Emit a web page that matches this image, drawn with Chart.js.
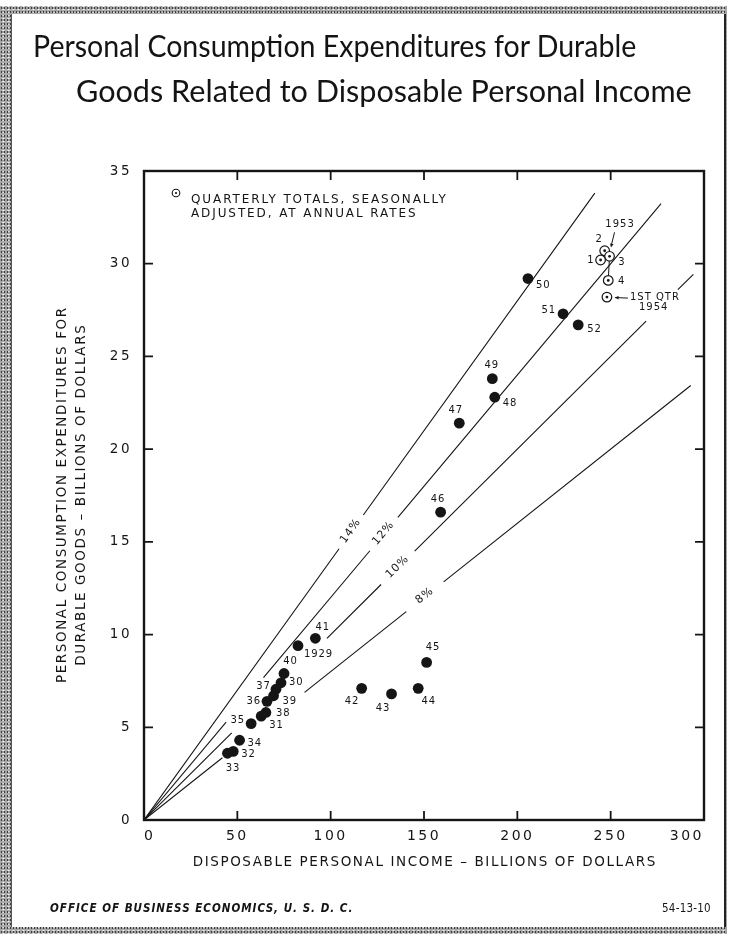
<!DOCTYPE html>
<html>
<head>
<meta charset="utf-8">
<script src="https://cdn.jsdelivr.net/npm/chart.js@4.4.1/dist/chart.umd.min.js"></script>
<style>
html, body { margin: 0; padding: 0; background: #fff; }
#page { position: relative; width: 731px; height: 937px; overflow: hidden; background: #fff; }
#frame {
  position: absolute; left: 0; top: 6px; width: 727px; height: 928px;
  background-color: #a9a9a9;
  background-image: radial-gradient(#3c3c3c 0.7px, transparent 1.1px), radial-gradient(#f2f2f2 0.8px, transparent 1.2px);
  background-size: 3px 4px, 5px 3px;
  background-position: 0 0, 1px 2px;
}
#inner { position: absolute; left: 11px; top: 14px; width: 712px; height: 913px; background: #fff; border-left: 1px solid #555; border-right: 2px solid #222; }
#chart { position: absolute; left: 0; top: 0; }
.ttl { position: absolute; white-space: nowrap; font-family: Lato, "Open Sans", sans-serif; font-size: 30px; color: #141414; transform-origin: 0 50%; line-height: 36px; }
.foot { position: absolute; white-space: nowrap; font-family: "DejaVu Sans", sans-serif; color: #141414; font-size: 12.5px; line-height: 16px; letter-spacing: 1.2px; transform-origin: 0 50%; }
</style>
</head>
<body>
<div id="page">
  <div id="frame"></div>
  <div id="inner"></div>
  <canvas id="chart" width="731" height="937"></canvas>
  <div class="ttl" id="t1" data-w="603" style="left:33px; top:27px;">Personal Consumption Expenditures for Durable</div>
  <div class="ttl" id="t2" data-w="616" style="left:76px; top:72px;">Goods Related to Disposable Personal Income</div>
  <div class="foot" id="f1" data-w="303" style="left:50px; top:900px; font-weight:bold; font-style:italic;">OFFICE OF BUSINESS ECONOMICS, U. S. D. C.</div>
  <div class="foot" id="f2" data-w="49" style="left:662px; top:900px; font-size:12px; letter-spacing:0.3px;">54-13-10</div>
</div>
<script>
// ---- data ----
const xTickValues = [0, 50, 100, 150, 200, 250, 300];
const yTickValues = [0, 5, 10, 15, 20, 25, 30, 35];

// annual totals
const yearLabels = ['1929','30','31','32','33','34','35','36','37','38','39','40','41','42','43','44','45','46','47','48','49','50','51','52'];
const income    = [82.5, 73.4, 62.8, 47.8, 44.7, 51.2, 57.4, 65.9, 70.7, 65.3, 69.4, 75.0, 91.8, 116.6, 132.6, 146.9, 151.4, 158.9, 168.9, 187.9, 186.6, 205.7, 224.5, 232.6];
const durables  = [9.4, 7.4, 5.6, 3.7, 3.6, 4.3, 5.2, 6.4, 7.05, 5.8, 6.7, 7.9, 9.8, 7.1, 6.8, 7.1, 8.5, 16.6, 21.4, 22.8, 23.8, 29.2, 27.3, 26.7];

// quarterly totals 1953 Q1-Q4 and 1954 Q1
const quarterLabels   = ['1', '2', '3', '4', '1ST QTR'];
const quarterIncome   = [244.6, 246.8, 249.4, 248.7, 248.0];
const quarterDurables = [30.2, 30.7, 30.4, 29.1, 28.2];

// ratio lines (durables as % of income)
const ratioPct     = [14, 12, 10, 8];
const ratioLabels  = ['14%', '12%', '10%', '8%'];
const ratioEnd     = [241.5, 277, 294.3, 292.9];
const ratioLabelAt = [111, 128.5, 136, 150.5];
const ratioGaps    = [[], [[44, 64]], [[47, 98], [269, 286]], [[42, 86]]];

// ---- label placement (pixels from the point) ----
const yearLabelPos = [
  [6, 9, 'left'], [8, 0, 'left'], [8, 9, 'left'], [8, 3, 'left'], [5, 15, 'center'],
  [8, 3, 'left'], [-7, -3, 'right'], [-7, 0, 'right'], [-6, -3, 'right'], [10, 1, 'left'],
  [9, 6, 'left'], [6, -12, 'center'], [7, -11, 'center'], [-10, 13, 'center'], [-9, 14, 'center'],
  [10, 13, 'center'], [6, -15, 'center'], [-3, -13, 'center'], [-4, -13, 'center'], [8, 6, 'left'],
  [-1, -13, 'center'], [8, 7, 'left'], [-8, -3, 'right'], [9, 5, 'left']
];
const quarterLabelPos = [[-7, 0, 'right'], [-6, -11, 'center'], [12, 6, 'center'], [13, 1, 'center'], [23, 0, 'left']];

const INK = '#151515';
const FONT = '"DejaVu Sans", "Liberation Sans", sans-serif';

function ratioLine(i) {
  const r = ratioPct[i] / 100;
  const cuts = ratioGaps[i].slice();
  const lab = ratioLabelAt[i];
  const half = [6.5, 7.5, 9, 10][i];
  cuts.push([lab - half, lab + half]);
  cuts.sort((a, b) => a[0] - b[0]);
  const pts = [{x: 0, y: 0}];
  cuts.forEach(c => {
    pts.push({x: c[0], y: r * c[0]});
    pts.push({x: (c[0] + c[1]) / 2, y: null});
    pts.push({x: c[1], y: r * c[1]});
  });
  pts.push({x: ratioEnd[i], y: r * ratioEnd[i]});
  return pts;
}

const ratioSets = ratioPct.map((p, i) => ({
  type: 'line',
  data: ratioLine(i),
  borderColor: INK,
  borderWidth: 1.1,
  pointRadius: 0,
  spanGaps: false,
  tension: 0,
  order: 5
}));

function text(ctx, s, x, y, size, align, spacing, weight) {
  ctx.font = (weight || '') + ' ' + size + 'px ' + FONT;
  ctx.letterSpacing = (spacing || 0) + 'px';
  ctx.textAlign = align || 'left';
  ctx.textBaseline = 'middle';
  let dx = 0;
  if (align === 'center') dx = (spacing || 0) / 2;
  if (align === 'right') dx = (spacing || 0);
  ctx.fillText(s, x + dx, y);
}

function arrowHead(ctx, x0, y0, x1, y1, len) {
  const a = Math.atan2(y1 - y0, x1 - x0);
  ctx.beginPath();
  ctx.moveTo(x1, y1);
  ctx.lineTo(x1 - len * Math.cos(a - 0.45), y1 - len * Math.sin(a - 0.45));
  ctx.lineTo(x1 - len * Math.cos(a + 0.45), y1 - len * Math.sin(a + 0.45));
  ctx.closePath();
  ctx.fill();
}

const decor = {
  id: 'decor',
  beforeDraw(chart) {
    chart.ctx.letterSpacing = '2.5px';
  },
  afterDatasetsDraw(chart) {
    const ctx = chart.ctx;
    const xs = chart.scales.x, ys = chart.scales.y;
    const a = chart.chartArea;
    ctx.save();
    ctx.strokeStyle = INK;
    ctx.fillStyle = INK;

    // frame
    ctx.lineWidth = 2.4;
    ctx.strokeRect(a.left, a.top, a.right - a.left, a.bottom - a.top);

    // inward ticks on all four sides
    ctx.lineWidth = 1.8;
    ctx.beginPath();
    xTickValues.slice(1, -1).forEach(v => {
      const px = xs.getPixelForValue(v);
      ctx.moveTo(px, a.bottom); ctx.lineTo(px, a.bottom - 9);
      ctx.moveTo(px, a.top); ctx.lineTo(px, a.top + 9);
    });
    yTickValues.slice(1, -1).forEach(v => {
      const py = ys.getPixelForValue(v);
      ctx.moveTo(a.left, py); ctx.lineTo(a.left + 9, py);
      ctx.moveTo(a.right, py); ctx.lineTo(a.right - 9, py);
    });
    ctx.stroke();

    // year labels
    yearLabels.forEach((s, i) => {
      const px = xs.getPixelForValue(income[i]);
      const py = ys.getPixelForValue(durables[i]);
      const p = yearLabelPos[i];
      text(ctx, s, px + p[0], py + p[1], 10, p[2], 0.9);
    });

    // quarter labels
    quarterLabels.forEach((s, i) => {
      const px = xs.getPixelForValue(quarterIncome[i]);
      const py = ys.getPixelForValue(quarterDurables[i]);
      const p = quarterLabelPos[i];
      text(ctx, s, px + p[0], py + p[1], 10, p[2], 1);
    });

    // 1953 tag with arrow toward the cluster
    const q3x = xs.getPixelForValue(quarterIncome[2]);
    const q3y = ys.getPixelForValue(quarterDurables[2]);
    text(ctx, '1953', q3x + 10, q3y - 32, 10, 'center', 1);
    ctx.lineWidth = 1;
    ctx.beginPath();
    ctx.moveTo(q3x + 5, q3y - 24); ctx.lineTo(q3x + 1.5, q3y - 10);
    ctx.stroke();
    arrowHead(ctx, q3x + 5, q3y - 24, q3x + 1.5, q3y - 9, 4);

    // 1st qtr 1954 tag
    const q5x = xs.getPixelForValue(quarterIncome[4]);
    const q5y = ys.getPixelForValue(quarterDurables[4]);
    ctx.beginPath();
    ctx.moveTo(q5x + 8, q5y + 0.5); ctx.lineTo(q5x + 21, q5y + 1);
    ctx.stroke();
    arrowHead(ctx, q5x + 21, q5y + 1, q5x + 8, q5y + 0.5, 4);
    text(ctx, '1954', q5x + 32, q5y + 10, 10, 'left', 1);

    // ratio labels along the lines
    ratioLabels.forEach((s, i) => {
      const r = ratioPct[i] / 100;
      const x0 = xs.getPixelForValue(0), y0 = ys.getPixelForValue(0);
      const x1 = xs.getPixelForValue(ratioEnd[i]), y1 = ys.getPixelForValue(r * ratioEnd[i]);
      const ang = Math.atan2(y1 - y0, x1 - x0);
      const cx = xs.getPixelForValue(ratioLabelAt[i]);
      const cy = ys.getPixelForValue(r * ratioLabelAt[i]);
      ctx.save();
      ctx.translate(cx, cy);
      ctx.rotate(ang);
      text(ctx, s, 0, -1, 11, 'center', 1);
      ctx.restore();
    });

    // legend for quarterly symbol
    const lx = a.left + 32, ly = a.top + 22;
    ctx.lineWidth = 1.1;
    ctx.beginPath(); ctx.arc(lx, ly, 3.8, 0, Math.PI * 2); ctx.stroke();
    ctx.beginPath(); ctx.arc(lx, ly, 1.1, 0, Math.PI * 2); ctx.fill();
    text(ctx, 'QUARTERLY TOTALS, SEASONALLY', a.left + 47, a.top + 29, 12, 'left', 1.9);
    text(ctx, 'ADJUSTED, AT ANNUAL RATES', a.left + 47, a.top + 43, 12, 'left', 1.9);

    // axis titles
    const midX = (a.left + a.right) / 2;
    text(ctx, 'DISPOSABLE PERSONAL INCOME \u2013 BILLIONS OF DOLLARS', midX, a.bottom + 42, 13.5, 'center', 1.6);
    const midY = (a.top + a.bottom) / 2;
    ctx.save();
    ctx.translate(a.left - 82, midY);
    ctx.rotate(-Math.PI / 2);
    text(ctx, 'PERSONAL CONSUMPTION EXPENDITURES FOR', 0, 0, 13.5, 'center', 1.6);
    ctx.restore();
    ctx.save();
    ctx.translate(a.left - 63, midY);
    ctx.rotate(-Math.PI / 2);
    text(ctx, 'DURABLE GOODS \u2013 BILLIONS OF DOLLARS', 0, 0, 13.5, 'center', 1.6);
    ctx.restore();

    ctx.restore();
  }
};

const plotLeft = 144, plotRight = 704, plotTop = 171, plotBottom = 820;
const yAxisW = 50, xAxisH = 30;

new Chart(document.getElementById('chart'), {
  type: 'scatter',
  data: {
    datasets: [
      {
        data: quarterIncome.map((v, i) => ({x: v, y: quarterDurables[i]})),
        pointRadius: 1.4,
        pointBackgroundColor: INK,
        pointBorderWidth: 0,
        order: 0
      },
      {
        data: quarterIncome.map((v, i) => ({x: v, y: quarterDurables[i]})),
        pointRadius: 4.8,
        pointBackgroundColor: '#fff',
        pointBorderColor: INK,
        pointBorderWidth: 1.2,
        order: 1
      },
      {
        type: 'line',
        data: quarterIncome.slice(0, 4).map((v, i) => ({x: v, y: quarterDurables[i]})),
        borderColor: INK,
        borderWidth: 1,
        pointRadius: 0,
        order: 2
      },
      {
        data: income.map((v, i) => ({x: v, y: durables[i]})),
        pointRadius: 5.4,
        pointBackgroundColor: INK,
        pointBorderWidth: 0,
        order: 3
      },
      ...ratioSets
    ]
  },
  options: {
    responsive: false,
    devicePixelRatio: 1,
    animation: false,
    layout: {
      padding: { left: plotLeft - yAxisW, right: 731 - plotRight, top: plotTop, bottom: 937 - plotBottom - xAxisH }
    },
    plugins: { legend: { display: false }, tooltip: { enabled: false }, title: { display: false } },
    scales: {
      x: {
        type: 'linear', min: 0, max: 300,
        afterBuildTicks: s => { s.ticks = xTickValues.map(v => ({value: v})); },
        afterFit: s => { s.height = xAxisH; },
        grid: { display: false, drawTicks: false },
        border: { display: false },
        ticks: { align: 'inner', padding: 8, color: INK, font: { family: FONT, size: 14 } }
      },
      y: {
        type: 'linear', min: 0, max: 35,
        afterBuildTicks: s => { s.ticks = yTickValues.map(v => ({value: v})); },
        afterFit: s => { s.width = yAxisW; },
        grid: { display: false, drawTicks: false },
        border: { display: false },
        ticks: { padding: 12, color: INK, font: { family: FONT, size: 13.5 } }
      }
    }
  },
  plugins: [decor]
});

// stretch the HTML titles to the measured widths
document.querySelectorAll('.ttl, .foot').forEach(el => {
  const w = +el.dataset.w;
  el.style.transform = 'scaleX(' + (w / el.scrollWidth).toFixed(3) + ')';
});
</script>
</body>
</html>
